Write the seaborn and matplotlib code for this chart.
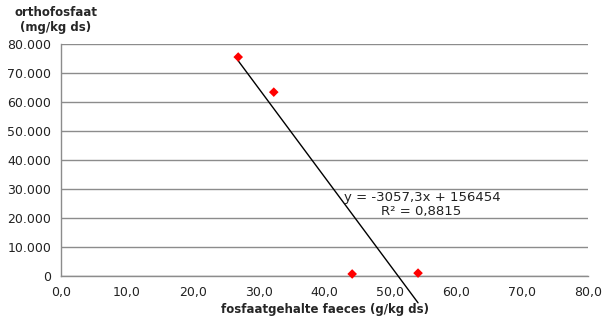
import matplotlib
matplotlib.use("Agg")
import matplotlib.pyplot as plt
import seaborn as sns
import numpy as np
import pandas as pd

# data
fosfaat = [26.9, 32.3, 44.2, 54.2]
orthofosfaat = [75500, 63400, 700, 1000]
slope = -3057.3
intercept = 156454
r2_label = "R² = 0,8815"
eq_label = "y = -3057,3x + 156454"
x_ticks = [0, 10, 20, 30, 40, 50, 60, 70, 80]
x_tick_labels = ["0,0", "10,0", "20,0", "30,0", "40,0", "50,0", "60,0", "70,0", "80,0"]
y_ticks = [0, 10000, 20000, 30000, 40000, 50000, 60000, 70000, 80000]
y_tick_labels = ["0", "10.000", "20.000", "30.000", "40.000", "50.000", "60.000", "70.000", "80.000"]

sns.set_style("white")
plt.rcParams['font.family'] = ['DejaVu Sans']

fig = plt.figure(figsize=(6.08, 3.22), dpi=100)
ax = fig.add_axes([61/608, 1-276/322, (588-61)/608, (276-44)/322])

df = pd.DataFrame({"x": fosfaat, "y": orthofosfaat})
tx = np.array([min(fosfaat), max(fosfaat)])
trend = pd.DataFrame({"x": tx, "y": slope*tx + intercept})

sns.lineplot(data=trend, x="x", y="y", ax=ax, color="black", lw=1.0, zorder=3)
for ln in ax.lines:
    ln.set_clip_on(False)
sns.scatterplot(data=df, x="x", y="y", ax=ax, marker="D", color="#ff0000",
                s=24, edgecolor="none", zorder=4, clip_on=False)

ax.set_xlim(0, 80)
ax.set_ylim(0, 80000)
ax.set_xticks(x_ticks)
ax.set_xticklabels(x_tick_labels, fontsize=9, color="#222222")
ax.set_yticks(y_ticks)
ax.set_yticklabels(y_tick_labels, fontsize=9, color="#222222")
ax.yaxis.grid(True, color="#8c8c8c", lw=1.0)
ax.set_axisbelow(True)
for s in ["top", "right"]:
    ax.spines[s].set_visible(False)
for s in ["left", "bottom"]:
    ax.spines[s].set_color("#8c8c8c")
    ax.spines[s].set_linewidth(1.0)
ax.tick_params(axis="both", direction="out", length=4, width=1, color="#8c8c8c", pad=3)
ax.set_xlabel("")
ax.set_ylabel("")

fig.text(325/608, 1-309/322, "fosfaatgehalte faeces (g/kg ds)", ha="center", va="center",
         fontsize=8.5, fontweight="bold")
fig.text(56/608, 1-12/322, "orthofosfaat", ha="center", va="center", fontsize=8.5, fontweight="bold")
fig.text(56/608, 1-27/322, "(mg/kg ds)", ha="center", va="center", fontsize=8.5, fontweight="bold")

fig.text(422/608, 1-198/322, eq_label, ha="center", va="center", fontsize=9.5, color="#222222")
fig.text(421/608, 1-212/322, r2_label, ha="center", va="center", fontsize=9.5, color="#222222")

fig.savefig("out.png", dpi=100)
